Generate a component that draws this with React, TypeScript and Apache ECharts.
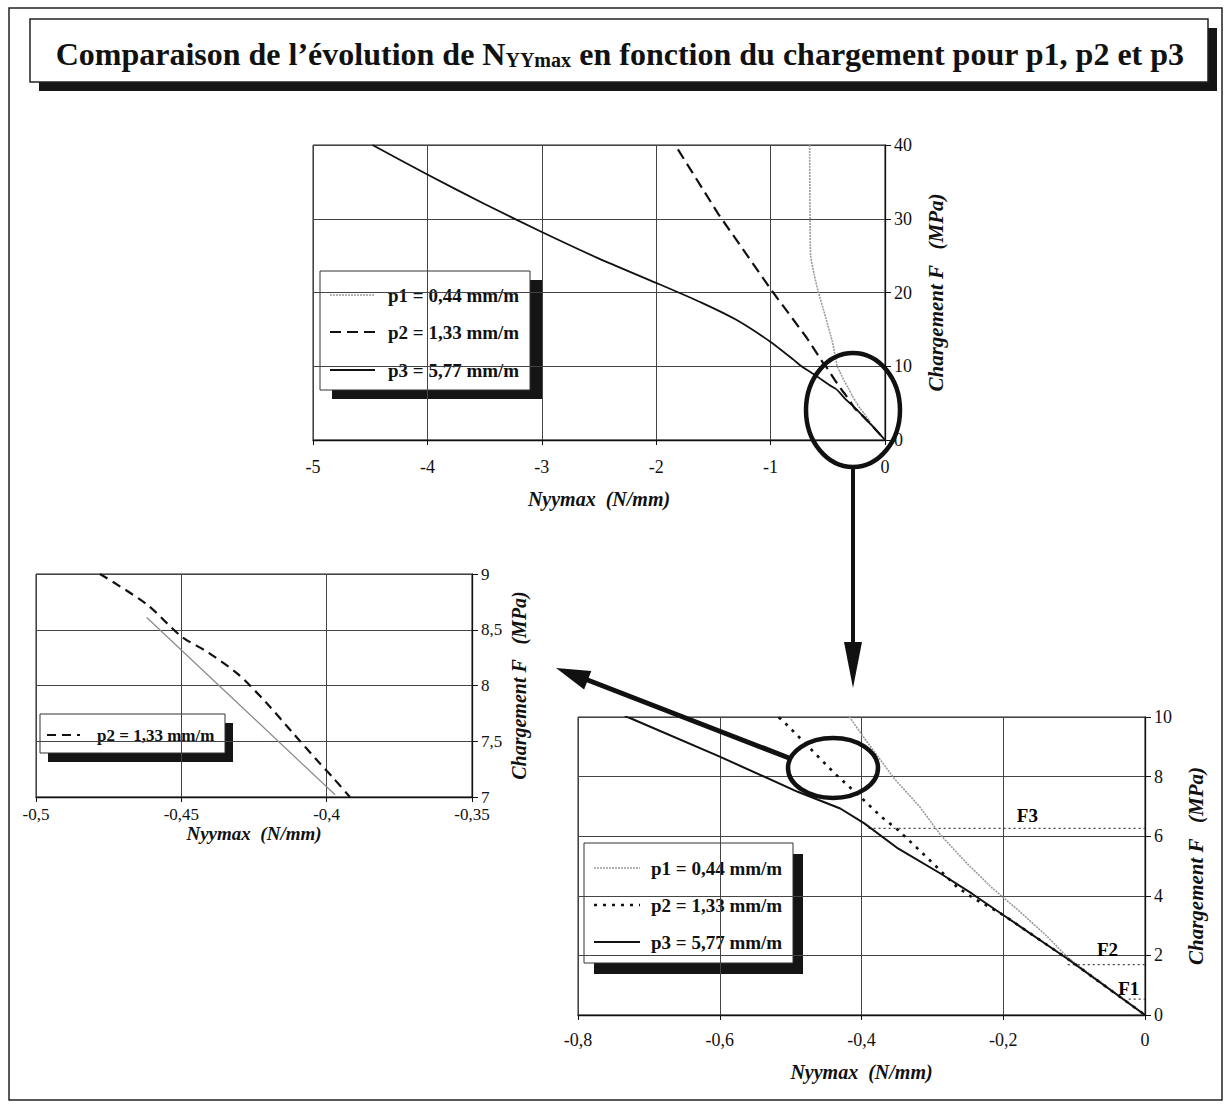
import React, { useEffect, useRef } from "react";
import * as echarts from "echarts";

// ---------- data (Nyymax in N/mm, Chargement F in MPa) ----------
const seriesNames = ["p1 = 0,44 mm/m", "p2 = 1,33 mm/m", "p3 = 5,77 mm/m"];

const p1Data: number[][] = [
  [-0.659, 40], [-0.655, 30], [-0.65, 25], [-0.62, 22.5], [-0.585, 20.2],
  [-0.518, 16.6], [-0.46, 13.3], [-0.417, 10], [-0.396, 9.29], [-0.354, 7.94],
  [-0.318, 6.99], [-0.288, 6.03], [-0.253, 5.13], [-0.217, 4.29], [-0.181, 3.56],
  [-0.139, 2.66], [-0.109, 1.93], [0, 0],
];
const p2Data: number[][] = [
  [-1.81, 39.4], [-1.455, 30.6], [-0.987, 20.2], [-0.686, 13.9], [-0.535, 10.3],
  [-0.512, 9.9], [-0.473, 8.96], [-0.438, 8.11], [-0.402, 7.33], [-0.372, 6.65],
  [-0.348, 6.2], [-0.306, 5.25], [-0.265, 4.29], [-0.244, 3.95], [-0.199, 3.34],
  [-0.109, 1.88], [0, 0],
];
const p3Data: number[][] = [
  [-4.48, 40], [-4.0, 36], [-3.5, 32], [-3.0, 28.2], [-2.5, 24.6],
  [-2.0, 21.3], [-1.6, 18.6], [-1.3, 16.3], [-1.0, 13.3], [-0.8, 10.9],
  [-0.73, 10], [-0.6, 8.67], [-0.49, 7.49], [-0.43, 6.93], [-0.396, 6.43],
  [-0.348, 5.58], [-0.288, 4.74], [-0.244, 4.07], [-0.199, 3.34], [-0.109, 1.88],
  [0, 0],
];
// zoomed view (left chart)
const p2ZoomData: number[][] = [
  [-0.478, 9.0], [-0.462, 8.73], [-0.45, 8.44], [-0.441, 8.3], [-0.4304, 8.1],
  [-0.4206, 7.84], [-0.4115, 7.57], [-0.4023, 7.3], [-0.3977, 7.17], [-0.392, 7.0],
];
const fitZoomData: number[][] = [[-0.4619, 8.61], [-0.3971, 7.02]];

// load thresholds F1, F2, F3 (bottom chart)
const fLabels = ["F1", "F2", "F3"];
const fLevels = [0.53, 1.69, 6.26];
const fStarts = [-0.023, -0.109, -0.39];
const fLabelX = [-0.023, -0.053, -0.166];
const fLabelY = [0.9, 2.2, 6.7];

// axis ticks
const topXTicks = [-5, -4, -3, -2, -1, 0];
const topYTicks = [0, 10, 20, 30, 40];
const zoomXTicks = [-0.5, -0.45, -0.4, -0.35];
const zoomYTicks = [7, 7.5, 8, 8.5, 9];
const botXTicks = [-0.8, -0.6, -0.4, -0.2, 0];
const botYTicks = [0, 2, 4, 6, 8, 10];

const xName = "Nyymax  (N/mm)";
const yName = "Chargement F   (MPa)";
const titleMain = "Comparaison de l’évolution de N";
const titleSub = "YYmax";
const titleEnd = " en fonction du chargement pour p1, p2 et p3";

// ---------- styles ----------
const SERIF = "Liberation Serif";
const INK = "#111";
const fmt = (v: number) => String(Number(v.toFixed(3))).replace(".", ",");

function rangeOf(t: number[]) {
  return { min: t[0], max: t[t.length - 1], interval: Number((t[1] - t[0]).toFixed(4)) };
}

function xAxis(ticks: number[], gridIndex: number, labelMargin: number, nameGap: number, fs: number, nfs: number) {
  const r = rangeOf(ticks);
  return {
    type: "value", gridIndex, ...r,
    position: "bottom",
    axisLine: { show: true, onZero: false, lineStyle: { color: INK, width: 1.3 } },
    axisTick: { show: true, inside: false, length: 5, lineStyle: { color: INK } },
    axisLabel: { margin: labelMargin, fontFamily: SERIF, fontSize: fs, color: INK, formatter: fmt },
    splitLine: { show: true, lineStyle: { color: "#444", width: 1 } },
    name: xName, nameLocation: "middle", nameGap,
    nameTextStyle: { fontFamily: SERIF, fontSize: nfs, fontStyle: "italic", fontWeight: "bold", color: INK },
  };
}
function yAxis(ticks: number[], gridIndex: number, nameGap: number, fs: number, nfs: number) {
  const r = rangeOf(ticks);
  return {
    type: "value", gridIndex, ...r,
    position: "right",
    axisLine: { show: true, onZero: false, lineStyle: { color: INK, width: 1.3 } },
    axisTick: { show: true, inside: false, length: 6, lineStyle: { color: INK } },
    axisLabel: { margin: 9, fontFamily: SERIF, fontSize: fs, color: INK, formatter: fmt },
    splitLine: { show: true, lineStyle: { color: "#444", width: 1 } },
    name: yName, nameLocation: "middle", nameGap, nameRotate: 90,
    nameTextStyle: { fontFamily: SERIF, fontSize: nfs, fontStyle: "italic", fontWeight: "bold", color: INK },
  };
}

const p1Style = { color: "#9a9a9a", width: 1.6, type: [2, 1] as any };
const p2TopStyle = { color: INK, width: 2.2, type: [11, 6] as any };
const p2BotStyle = { color: INK, width: 2.6, type: [3, 6] as any };
const p3Style = { color: INK, width: 1.8, type: "solid" };

function lineSeries(name: string, data: number[][], idx: number, lineStyle: any, z = 3, smooth: number | boolean = false) {
  return {
    type: "line", name, data, xAxisIndex: idx, yAxisIndex: idx,
    showSymbol: false, symbol: "none", lineStyle, z, clip: true, silent: true, smooth,
  };
}

function legendBox(x: number, y: number, w: number, h: number, sx: number, sy: number, items: { style: any; label: string; y: number }[], sampleX: [number, number], textX: number, fs: number) {
  const children: any[] = [
    { type: "rect", shape: { x: x + sx, y: y + sy, width: w, height: h }, style: { fill: "#151515" } },
    { type: "rect", shape: { x, y, width: w, height: h }, style: { fill: "#fff", stroke: "#333", lineWidth: 1 } },
  ];
  items.forEach((it) => {
    children.push({
      type: "line",
      shape: { x1: sampleX[0], y1: it.y, x2: sampleX[1], y2: it.y },
      style: { stroke: it.style.color, lineWidth: it.style.width, lineDash: Array.isArray(it.style.type) ? it.style.type : null },
    });
    children.push({
      type: "text", x: textX, y: it.y,
      style: { text: it.label, fontFamily: SERIF, fontSize: fs, fontWeight: "bold", fill: INK, verticalAlign: "middle", align: "left" },
    });
  });
  return { type: "group", children, z: 50 };
}

function arrowHead(tipX: number, tipY: number, fromX: number, fromY: number, len: number, half: number) {
  const dx = fromX - tipX, dy = fromY - tipY;
  const L = Math.hypot(dx, dy);
  const ux = dx / L, uy = dy / L;
  const bx = tipX + ux * len, by = tipY + uy * len;
  return [[tipX, tipY], [bx - uy * half, by + ux * half], [bx + uy * half, by - ux * half]];
}

const option: any = {
  animation: false,
  backgroundColor: "#fff",
  textStyle: { fontFamily: SERIF, color: INK },
  grid: [
    { left: 313, top: 145, width: 572, height: 295, show: true, borderColor: "#222", borderWidth: 1, outerBoundsMode: "none", containLabel: false },
    { left: 36, top: 574, width: 436, height: 223, show: true, borderColor: "#222", borderWidth: 1, outerBoundsMode: "none", containLabel: false },
    { left: 578, top: 717, width: 567, height: 298, show: true, borderColor: "#222", borderWidth: 1, outerBoundsMode: "none", containLabel: false },
  ],
  xAxis: [
    xAxis(topXTicks, 0, 18, 49, 18, 20),
    xAxis(zoomXTicks, 1, 9, 24, 17, 19),
    xAxis(botXTicks, 2, 16, 47, 18, 20),
  ],
  yAxis: [
    yAxis(topYTicks, 0, 40, 18, 21),
    yAxis(zoomYTicks, 1, 37, 17, 20),
    yAxis(botYTicks, 2, 40, 18, 21),
  ],
  series: [
    lineSeries(seriesNames[0], p1Data, 0, p1Style, 3, 0.2),
    lineSeries(seriesNames[1], p2Data, 0, p2TopStyle, 4),
    lineSeries(seriesNames[2], p3Data, 0, p3Style, 5, 0.2),

    lineSeries("fit", fitZoomData, 1, { color: "#888", width: 1.2, type: "solid" }, 3),
    lineSeries(seriesNames[1] + " ", p2ZoomData, 1, { color: INK, width: 2.2, type: [9, 6] }, 4, 0.3),

    ...fLevels.map((lv, i) =>
      lineSeries(fLabels[i], [[fStarts[i], lv], [0, lv]], 2, { color: "#444", width: 1.3, type: [2, 3] }, 2)
    ),
    lineSeries(seriesNames[0], p1Data, 2, p1Style, 3),
    lineSeries(seriesNames[1], p2Data, 2, p2BotStyle, 5),
    lineSeries(seriesNames[2], p3Data, 2, { ...p3Style, width: 2 }, 4),
    {
      type: "scatter", name: "F labels", xAxisIndex: 2, yAxisIndex: 2, silent: true, symbolSize: 2,
      itemStyle: { color: "rgba(255,255,255,0)" },
      data: fLabels.map((l, i) => [fLabelX[i], fLabelY[i], l]),
      label: {
        show: true, position: "inside", formatter: (p: any) => p.value[2],
        fontFamily: SERIF, fontSize: 19, fontWeight: "bold", color: "#000", opacity: 1,
        textBorderWidth: 0,
      },
      z: 6,
    },
  ],
  graphic: [
    // outer frame
    { type: "rect", shape: { x: 9, y: 8, width: 1213, height: 1092 }, style: { fill: "none", stroke: "#222", lineWidth: 1.5 }, z: 1 },
    // title box with shadow
    { type: "rect", shape: { x: 39, y: 28, width: 1178, height: 63 }, style: { fill: "#151515" }, z: 40 },
    { type: "rect", shape: { x: 30, y: 19, width: 1178, height: 63 }, style: { fill: "#fff", stroke: "#222", lineWidth: 1.5 }, z: 41 },
    {
      type: "text", x: 620, y: 50, z: 42,
      style: {
        text: `{a|${titleMain}}{b|${titleSub}}{a|${titleEnd}}`,
        align: "center", verticalAlign: "middle",
        rich: {
          a: { fontFamily: SERIF, fontSize: 32, fontWeight: "bold", fill: INK, lineHeight: 40, verticalAlign: "bottom" },
          b: { fontFamily: SERIF, fontSize: 20, fontWeight: "bold", fill: INK, lineHeight: 22, verticalAlign: "bottom" },
        },
      },
    },
    // legends
    legendBox(320, 271, 210, 119, 12, 9, [
      { style: p1Style, label: seriesNames[0], y: 295 },
      { style: p2TopStyle, label: seriesNames[1], y: 332 },
      { style: p3Style, label: seriesNames[2], y: 370 },
    ], [330, 375], 388, 19),
    legendBox(40, 714, 185, 39, 8, 9, [
      { style: { color: INK, width: 2.2, type: [9, 6] }, label: seriesNames[1], y: 735 },
    ], [47, 80], 97, 17),
    legendBox(584, 843, 209, 120, 10, 11, [
      { style: p1Style, label: seriesNames[0], y: 868 },
      { style: p2BotStyle, label: seriesNames[1], y: 905 },
      { style: p3Style, label: seriesNames[2], y: 942 },
    ], [594, 640], 651, 19),
    // top ellipse + arrow down
    { type: "ellipse", shape: { cx: 853, cy: 410, rx: 47, ry: 57 }, style: { fill: "none", stroke: INK, lineWidth: 4.5 }, z: 60 },
    { type: "line", shape: { x1: 853, y1: 467, x2: 853, y2: 645 }, style: { stroke: INK, lineWidth: 4 }, z: 60 },
    { type: "polygon", shape: { points: arrowHead(853, 688, 853, 467, 46, 9) }, style: { fill: INK }, z: 60 },
    // bottom ellipse + arrow to zoom chart
    { type: "ellipse", shape: { cx: 833, cy: 768, rx: 45, ry: 30 }, style: { fill: "none", stroke: INK, lineWidth: 4.5 }, z: 60 },
    { type: "line", shape: { x1: 789, y1: 758, x2: 585, y2: 679 }, style: { stroke: INK, lineWidth: 5 }, z: 60 },
    { type: "polygon", shape: { points: arrowHead(556, 668, 789, 758, 34, 10) }, style: { fill: INK }, z: 60 },
  ],
};

export default function App() {
  const ref = useRef<HTMLDivElement>(null);
  useEffect(() => {
    if (!ref.current) return;
    const chart = echarts.init(ref.current, undefined, { renderer: "svg" });
    chart.setOption(option);
    return () => chart.dispose();
  }, []);
  return (
    <div
      ref={ref}
      style={{ position: "absolute", left: 0, top: 0, width: 1228, height: 1108, background: "#fff" }}
    />
  );
}
